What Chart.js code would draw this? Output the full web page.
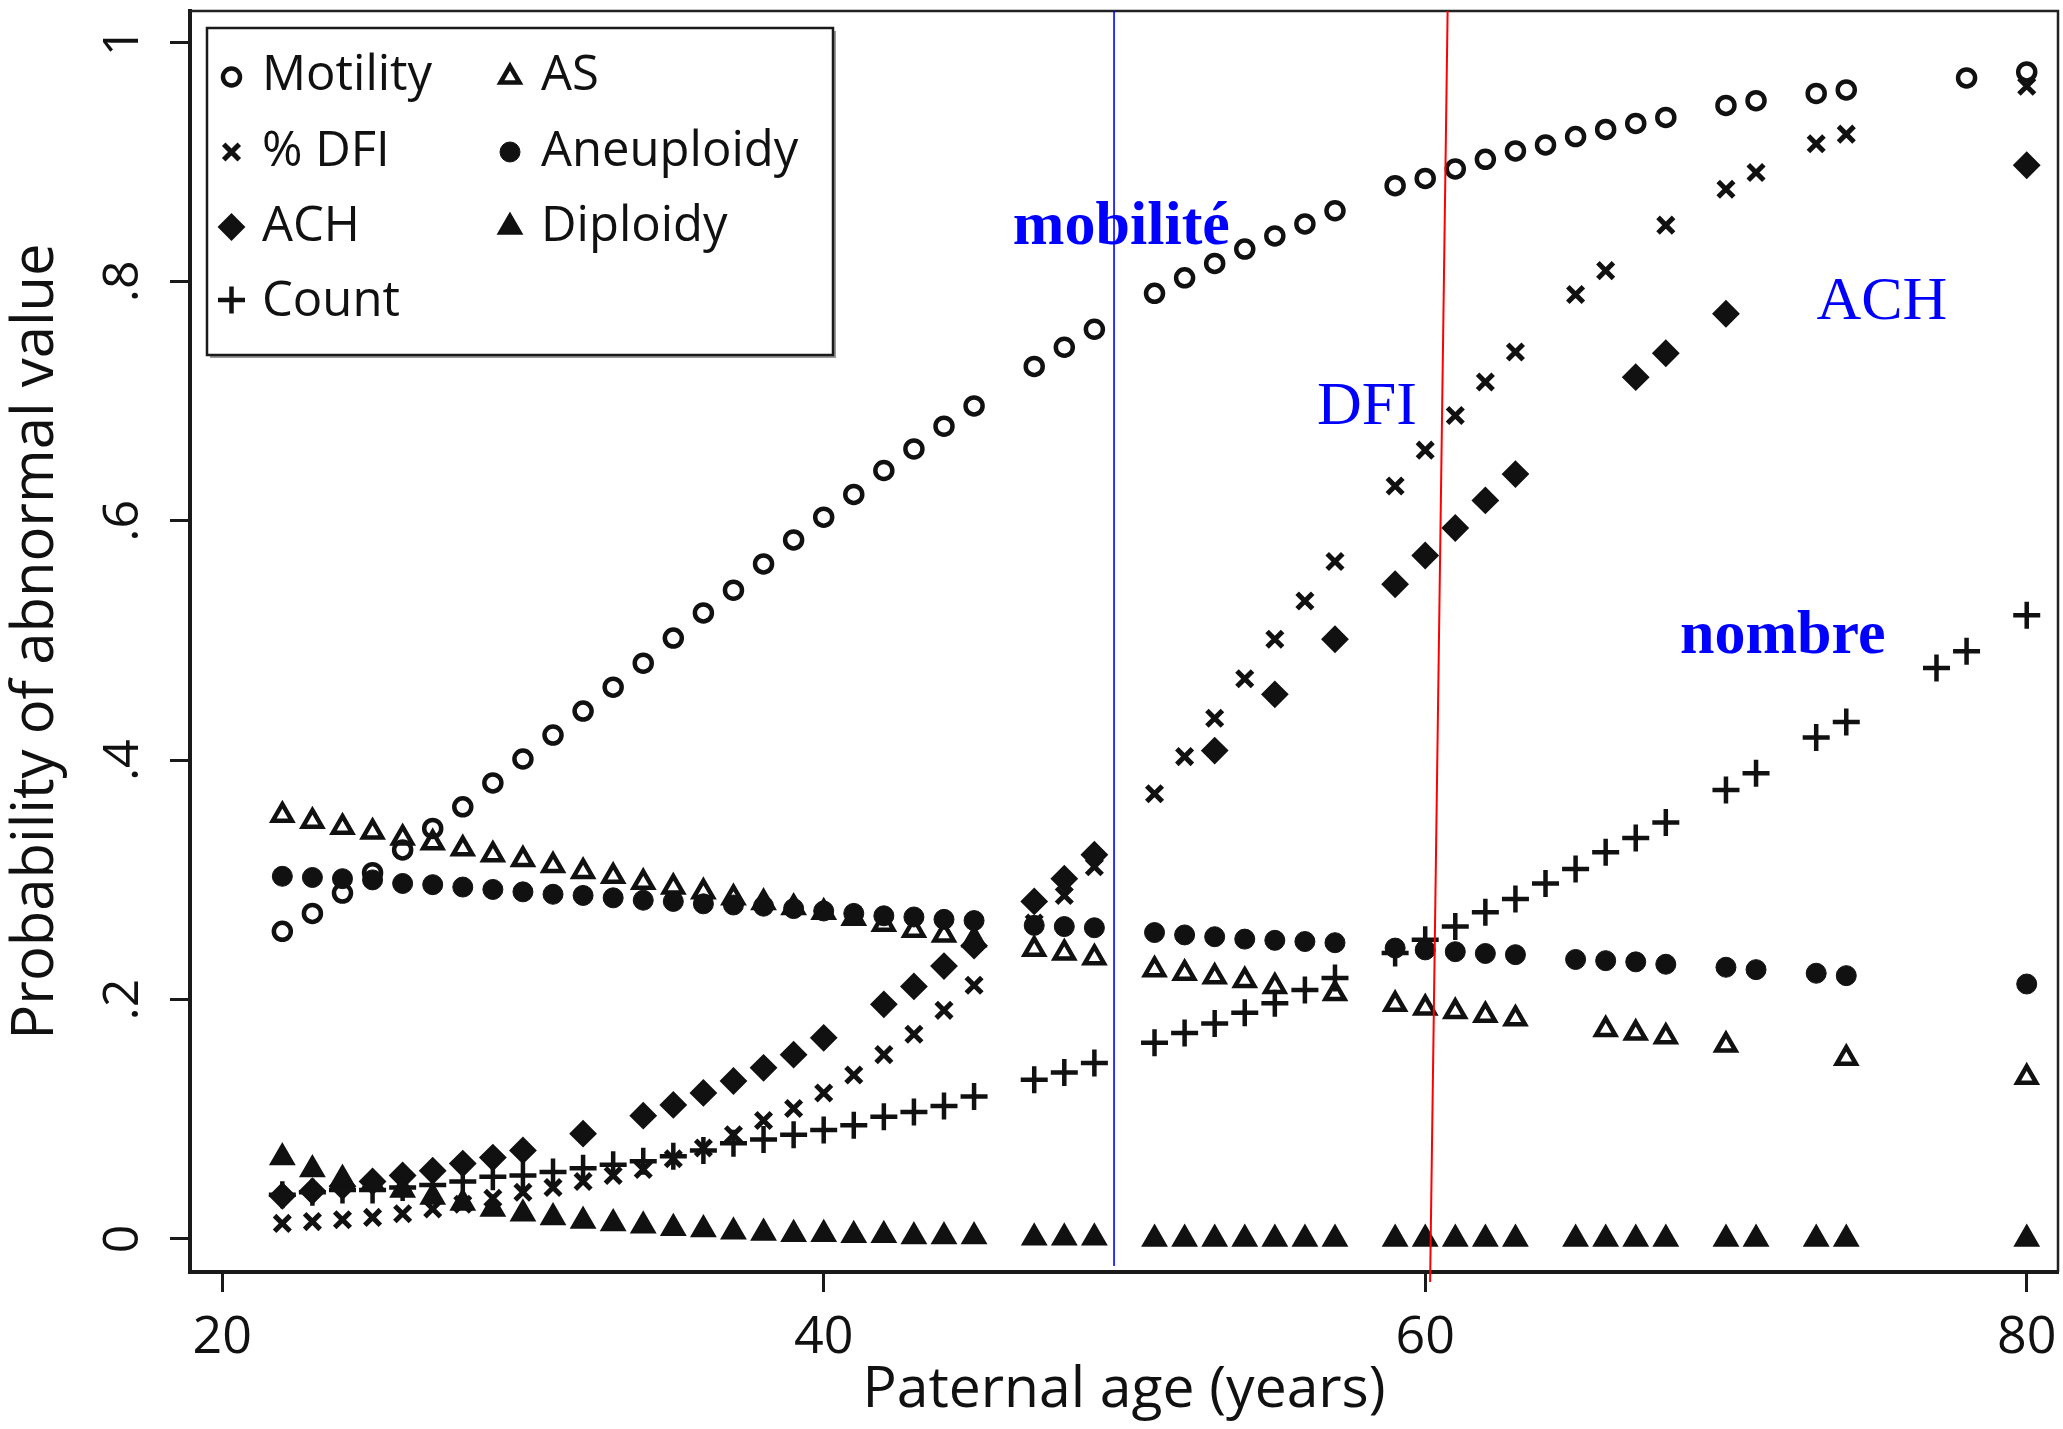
<!DOCTYPE html>
<html>
<head>
<meta charset="utf-8">
<script src="https://cdn.jsdelivr.net/npm/chart.js@4.4.1/dist/chart.umd.min.js"></script>
<style>
  html, body { margin: 0; padding: 0; background: #ffffff; }
  #wrap { width: 2063px; height: 1429px; }
</style>
</head>
<body>
<div id="wrap"><canvas id="chart" width="2063" height="1429"></canvas></div>
<script>
// ---- Data: probability of abnormal semen value by paternal age ----
const seriesLabels = ['Motility', '% DFI', 'ACH', 'Count', 'AS', 'Aneuploidy', 'Diploidy'];

const motilityAges = [22,23,24,25,26,27,28,29,30,31,32,33,34,35,36,37,38,39,40,41,42,43,44,45,47,48,49,51,52,53,54,55,56,57,59,60,61,62,63,64,65,66,67,68,70,71,73,74,78,80];
const motilityValues = [.257,.272,.289,.306,.325,.343,.361,.381,.401,.421,.441,.461,.481,.502,.523,.542,.564,.584,.603,.622,.642,.660,.679,.696,.729,.745,.760,.790,.803,.815,.827,.838,.848,.859,.880,.886,.894,.902,.909,.914,.921,.927,.932,.937,.947,.951,.957,.960,.970,.975];

const dfiAges = [22,23,24,25,26,27,28,29,30,31,32,33,34,35,36,37,38,39,40,41,42,43,44,45,47,48,49,51,52,53,54,55,56,57,59,60,61,62,63,65,66,68,70,71,73,74,80];
const dfiValues = [.013,.0145,.016,.018,.021,.025,.029,.034,.039,.043,.048,.053,.058,.067,.076,.087,.099,.109,.122,.137,.154,.171,.191,.212,.264,.287,.311,.372,.403,.435,.468,.501,.533,.566,.629,.659,.688,.716,.741,.789,.809,.847,.877,.891,.915,.923,.963];

const achAges = [22,23,24,25,26,27,28,29,30,32,34,35,36,37,38,39,40,42,43,44,45,47,48,49,53,55,57,59,60,61,62,63,67,68,70,80];
const achValues = [.036,.040,.044,.048,.053,.057,.063,.068,.074,.088,.103,.112,.122,.132,.143,.154,.168,.196,.211,.228,.245,.282,.301,.321,.408,.455,.501,.547,.571,.594,.617,.639,.720,.740,.773,.897];

const countAges = [22,23,24,25,26,27,28,29,30,31,32,33,34,35,36,37,38,39,40,41,42,43,44,45,47,48,49,51,52,53,54,55,56,57,59,60,61,62,63,64,65,66,67,68,70,71,73,74,77,78,80];
const countValues = [.037,.039,.041,.041,.043,.045,.048,.052,.053,.056,.059,.062,.065,.069,.074,.080,.083,.087,.091,.095,.102,.106,.111,.119,.133,.139,.147,.164,.172,.180,.189,.197,.208,.218,.239,.250,.261,.273,.284,.297,.309,.323,.335,.348,.375,.389,.419,.432,.477,.491,.521];

const asAges = [22,23,24,25,26,27,28,29,30,31,32,33,34,35,36,37,38,39,40,41,42,43,44,45,47,48,49,51,52,53,54,55,57,59,60,61,62,63,66,67,68,70,74,80];
const asValues = [.354,.349,.344,.340,.335,.331,.326,.321,.317,.312,.307,.303,.298,.294,.290,.285,.281,.277,.273,.268,.263,.258,.254,.250,.242,.239,.235,.225,.222,.219,.216,.211,.205,.196,.193,.190,.187,.184,.175,.172,.169,.162,.151,.135];

const aneuploidyAges = [22,23,24,25,26,27,28,29,30,31,32,33,34,35,36,37,38,39,40,41,42,43,44,45,47,48,49,51,52,53,54,55,56,57,59,60,61,62,63,65,66,67,68,70,71,73,74,80];
const aneuploidyValues = [.303,.302,.301,.300,.297,.296,.294,.292,.290,.288,.287,.285,.283,.282,.280,.279,.278,.276,.274,.272,.270,.269,.267,.266,.262,.261,.260,.256,.254,.2525,.2505,.2495,.2485,.2475,.243,.2415,.240,.2385,.2375,.2335,.2325,.2315,.2295,.227,.225,.222,.220,.213];

const diploidyAges = [22,23,24,25,26,27,28,29,30,31,32,33,34,35,36,37,38,39,40,41,42,43,44,45,47,48,49,51,52,53,54,55,56,57,59,60,61,62,63,65,66,67,68,70,71,73,74,80];
const diploidyValues = [.068,.058,.050,.046,.041,.035,.030,.025,.021,.018,.015,.013,.011,.009,.008,.006,.005,.004,.004,.003,.003,.002,.002,.002,.001,.001,.001,0,0,0,0,0,0,0,0,0,0,0,0,0,0,0,0,0,0,0,0,0];

const xTickValues = [20, 40, 60, 80];
const xTickLabels = ['20', '40', '60', '80'];
const yTickValues = [0, 0.2, 0.4, 0.6, 0.8, 1];
const yTickLabels = ['0', '.2', '.4', '.6', '.8', '1'];

// Blue text notes placed in data space (left edge / baseline)
const noteTexts = ['mobilité', 'DFI', 'ACH', 'nombre'];
const noteAges = [46.29, 56.40, 73.01, 68.47];
const noteLevels = [0.831, 0.6805, 0.7688, 0.4896];

// Reference guide lines (age at top of plot, age at lower end, lower end level)
const guideTopAges = [49.654, 60.745];
const guideBottomAges = [49.654, 60.163];
const guideBottomLevels = [-0.0225, -0.036];

// ---- Styling ----
const FONT = "'Open Sans', 'Noto Sans', sans-serif";
const INK = '#111111';

const markerStyles = [
  { pointStyle: 'circle',   radius: 8.5, borderWidth: 4.5, fill: 'rgba(0,0,0,0)' },
  { pointStyle: 'crossRot', radius: 11,  borderWidth: 5,   fill: 'rgba(0,0,0,0)' },
  { pointStyle: 'rectRot',  radius: 12.5,borderWidth: 2,   fill: INK },
  { pointStyle: 'cross',    radius: 13.5,borderWidth: 4.5, fill: 'rgba(0,0,0,0)' },
  { pointStyle: 'triangle', radius: 11,  borderWidth: 4.5, fill: 'rgba(0,0,0,0)' },
  { pointStyle: 'circle',   radius: 10,  borderWidth: 1,   fill: INK },
  { pointStyle: 'triangle', radius: 14,  borderWidth: 1.5, fill: INK }
];

const seriesAges = [motilityAges, dfiAges, achAges, countAges, asAges, aneuploidyAges, diploidyAges];
const seriesValues = [motilityValues, dfiValues, achValues, countValues, asValues, aneuploidyValues, diploidyValues];

const datasets = seriesLabels.map((label, i) => ({
  label,
  data: seriesAges[i].map((a, j) => ({ x: a, y: seriesValues[i][j] })),
  showLine: false,
  pointStyle: markerStyles[i].pointStyle,
  pointRadius: markerStyles[i].radius,
  pointHoverRadius: markerStyles[i].radius,
  pointBorderWidth: markerStyles[i].borderWidth,
  pointBorderColor: INK,
  pointBackgroundColor: markerStyles[i].fill,
  order: seriesLabels.length - i
}));

// Closes the plot region on the top and right
const frameBox = {
  id: 'frameBox',
  afterDatasetsDraw(chart) {
    const { ctx, chartArea: a } = chart;
    ctx.save();
    ctx.strokeStyle = '#222222';
    ctx.lineWidth = 2.5;
    ctx.beginPath();
    ctx.moveTo(a.left, a.top);
    ctx.lineTo(a.right, a.top);
    ctx.lineTo(a.right, a.bottom);
    ctx.stroke();
    ctx.restore();
  }
};

// Vertical guide lines and blue notes
const notes = {
  id: 'notes',
  afterDatasetsDraw(chart) {
    const { ctx, scales: { x, y }, chartArea: a } = chart;
    ctx.save();
    const colors = ['#0000ff', '#ff0000'];
    const widths = [1.6, 2];
    guideTopAges.forEach((age, i) => {
      ctx.strokeStyle = colors[i];
      ctx.lineWidth = widths[i];
      ctx.beginPath();
      ctx.moveTo(x.getPixelForValue(age), a.top);
      ctx.lineTo(x.getPixelForValue(guideBottomAges[i]), y.getPixelForValue(guideBottomLevels[i]));
      ctx.stroke();
    });
    ctx.fillStyle = '#0000ff';
    ctx.textBaseline = 'alphabetic';
    ctx.textAlign = 'left';
    noteTexts.forEach((t, i) => {
      const bold = (i === 0 || i === 3);
      ctx.font = (bold ? 'bold ' : '') + "62px 'Liberation Serif', 'Times New Roman', serif";
      ctx.fillText(t, x.getPixelForValue(noteAges[i]), y.getPixelForValue(noteLevels[i]));
    });
    ctx.restore();
  }
};

// Two-column legend inside the plot region
const boxLegend = {
  id: 'boxLegend',
  afterDraw(chart) {
    const { ctx } = chart;
    const box = { left: 207, top: 28, right: 833, bottom: 355 };
    ctx.save();
    ctx.fillStyle = '#9a9a9a';
    ctx.fillRect(box.left + 3, box.top + 3, box.right - box.left, box.bottom - box.top);
    ctx.fillStyle = '#ffffff';
    ctx.fillRect(box.left, box.top, box.right - box.left, box.bottom - box.top);
    ctx.strokeStyle = '#1a1a1a';
    ctx.lineWidth = 2.5;
    ctx.strokeRect(box.left, box.top, box.right - box.left, box.bottom - box.top);

    const colMarkerX = [231.5, 510];
    const colTextX = [262, 541];
    const rowMarkerY = [77, 152, 227, 300];
    const rowBaseline = [90, 166, 241, 316];
    ctx.font = '49px ' + FONT;
    ctx.textBaseline = 'alphabetic';
    ctx.textAlign = 'left';
    chart.data.datasets.forEach((ds, i) => {
      const col = i < 4 ? 0 : 1;
      const row = i < 4 ? i : i - 4;
      ctx.fillStyle = ds.pointBackgroundColor;
      ctx.strokeStyle = ds.pointBorderColor;
      ctx.lineWidth = ds.pointBorderWidth;
      Chart.helpers.drawPoint(ctx, {
        pointStyle: ds.pointStyle, rotation: 0,
        radius: ds.pointRadius, borderWidth: ds.pointBorderWidth
      }, colMarkerX[col], rowMarkerY[row]);
      ctx.fillStyle = INK;
      ctx.fillText(ds.label, colTextX[col], rowBaseline[row]);
    });
    ctx.restore();
  }
};

new Chart(document.getElementById('chart'), {
  type: 'scatter',
  data: { datasets },
  plugins: [frameBox, notes, boxLegend],
  options: {
    responsive: false,
    animation: false,
    devicePixelRatio: 1,
    layout: { autoPadding: false, padding: { left: 0, right: 5, top: 11, bottom: 0 } },
    plugins: { legend: { display: false }, tooltip: { enabled: false } },
    scales: {
      x: {
        type: 'linear',
        min: 18.93,
        max: 81.04,
        afterBuildTicks: s => { s.ticks = xTickValues.map(v => ({ value: v })); },
        afterFit: s => { s.height = 157; s.paddingLeft = 0; s.paddingRight = 0; },
        grid: { display: true, drawOnChartArea: false, drawTicks: true, tickLength: 20, tickWidth: 3, tickColor: '#1a1a1a' },
        border: { display: true, width: 4, color: '#1a1a1a' },
        ticks: { padding: 15, color: INK, font: { family: FONT, size: 52 }, maxRotation: 0, callback: (v, i) => xTickLabels[i] },
        title: { display: true, text: 'Paternal age (years)', color: INK, font: { family: FONT, size: 57 }, padding: { top: 0, bottom: 4 } }
      },
      y: {
        type: 'linear',
        min: -0.0276,
        max: 1.0259,
        afterBuildTicks: s => { s.ticks = yTickValues.map(v => ({ value: v })); },
        afterFit: s => { s.width = 190; s.paddingTop = 0; s.paddingBottom = 0; },
        grid: { display: true, drawOnChartArea: false, drawTicks: true, tickLength: 20, tickWidth: 3, tickColor: '#1a1a1a' },
        border: { display: true, width: 4, color: '#1a1a1a' },
        ticks: { minRotation: 90, maxRotation: 90, crossAlign: 'center', padding: 25, color: INK, font: { family: FONT, size: 50 }, callback: (v, i) => yTickLabels[i] },
        title: { display: true, text: 'Probability of abnormal value', color: INK, font: { family: FONT, size: 58 }, padding: { top: 2, bottom: 0 } }
      }
    }
  }
});
</script>
</body>
</html>
